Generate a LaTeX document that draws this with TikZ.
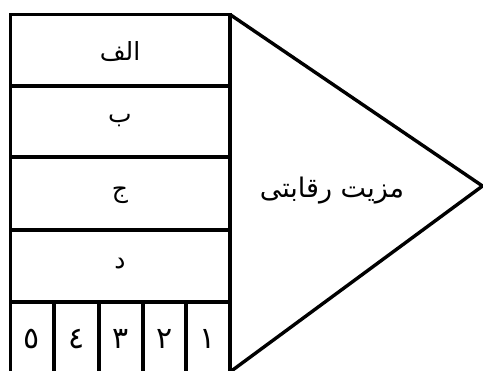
\documentclass[tikz,border=0pt]{standalone}
\usepackage{fontspec}
\newfontfamily\arabicfont[Script=Arabic]{DejaVu Sans}
\TeXXeTstate=1
\begin{document}
\begin{tikzpicture}[x=1pt,y=-1pt,
  frame/.style={draw=black,line width=3.4pt,line join=miter},
  lbl/.style={font=\arabicfont\fontsize{25}{27}\selectfont,inner sep=0pt,anchor=center},
  num/.style={font=\arabicfont\fontsize{30}{32}\selectfont,inner sep=0pt,anchor=center}]
\useasboundingbox (0,0) rectangle (483,371);
\clip (0,0) rectangle (483,371);
% outer rectangle and triangle
\coordinate (tl) at (10.5,14.5);
\coordinate (tr) at (230,14.5);
\coordinate (br) at (230,385);
\coordinate (bl) at (10.5,385);
\coordinate (tip) at (482.5,186);
\coordinate (tb) at (230,372);
\draw[frame] (bl) -- (tl) -- (tr) -- (br);
\draw[frame] (tr) -- (tip) -- (tb);
% row separators
\foreach \yy/\nm in {86/a,157/b,230/c,302/d}{
  \coordinate (l\nm) at (10.5,\yy);
  \coordinate (r\nm) at (230,\yy);
  \draw[frame] (l\nm) -- (r\nm);
}
% column separators of the bottom row
\foreach \xx/\nm in {54/p,99/q,143/r,186/s}{
  \coordinate (t\nm) at (\xx,302);
  \coordinate (b\nm) at (\xx,385);
  \draw[frame] (t\nm) -- (b\nm);
}
% labels
\node[lbl] (alef) at (120,52) {\beginR الف\endR};
\node[lbl] (be) at (120,121) {\beginR ب\endR};
\node[lbl] (jim) at (120,195) {\beginR ج\endR};
\node[lbl] (dal) at (120,264) {\beginR د\endR};
\node[num] (n5) at (32,339) {\beginR ٥\endR};
\node[num] (n4) at (76.5,339) {\beginR ٤\endR};
\node[num] (n3) at (121,339) {\beginR ٣\endR};
\node[num] (n2) at (164.5,339) {\beginR ٢\endR};
\node[num] (n1) at (208,339) {\beginR ١\endR};
\node[lbl,font=\arabicfont\fontsize{27}{29}\selectfont] (adv) at (332,191) {\beginR مزیت رقابتی\endR};
\end{tikzpicture}
\end{document}
